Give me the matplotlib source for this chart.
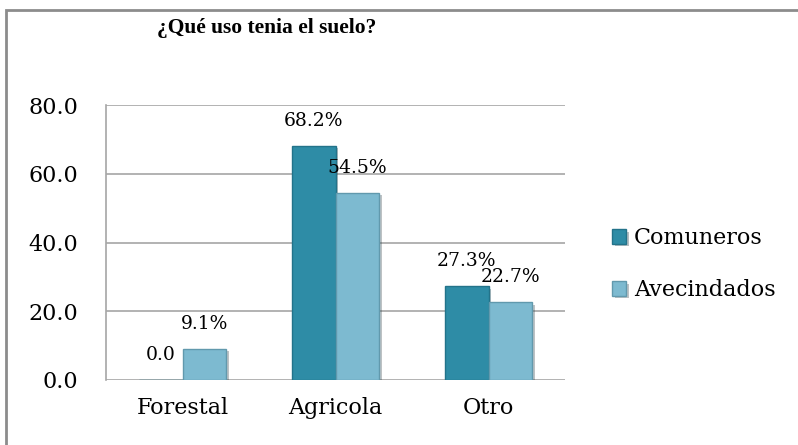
import matplotlib.pyplot as plt
import matplotlib.patheffects as pe
from matplotlib.patches import Rectangle
import numpy as np

# data
categories = ["Forestal", "Agricola", "Otro"]
comuneros = [0.0, 68.2, 27.3]
avecindados = [9.1, 54.5, 22.7]
comuneros_labels = ["0.0", "68.2%", "27.3%"]
avecindados_labels = ["9.1%", "54.5%", "22.7%"]
yticks = [0, 20, 40, 60, 80]

plt.rcParams['font.family'] = ['DejaVu Serif']

fig = plt.figure(figsize=(7.98, 4.45), dpi=100)
ax = fig.add_axes([106 / 798, 1 - 380 / 445, (565 - 106) / 798, (380 - 105) / 445])

x = np.arange(len(categories))
w = 0.287
shadow = [pe.SimplePatchShadow(offset=(2, -2), alpha=0.3), pe.Normal()]

b1 = ax.bar(x - w / 2, comuneros, w, color="#2E8CA6", edgecolor="#23738A",
            linewidth=1, label="Comuneros", path_effects=shadow, zorder=3)
b2 = ax.bar(x + w / 2, avecindados, w, color="#7DBAD0", edgecolor="#6199AD",
            linewidth=1, label="Avecindados", path_effects=shadow, zorder=3)

# value labels above each bar
for bars, labels in [(b1, comuneros_labels), (b2, avecindados_labels)]:
    for bar, lab in zip(bars, labels):
        ax.annotate(lab, (bar.get_x() + bar.get_width() / 2, bar.get_height()),
                    xytext=(0, 18), textcoords="offset points",
                    ha="center", va="center", fontsize=13.5, zorder=5)

ax.set_xlim(-0.5, len(categories) - 0.5)
ax.set_ylim(0, 80)
ax.set_yticks(yticks)
ax.set_yticklabels([f"{v:.1f}" for v in yticks])
ax.set_xticks(x)
ax.set_xticklabels(categories)
ax.tick_params(axis="y", length=0, pad=20, labelsize=16)
ax.tick_params(axis="x", length=0, pad=12, labelsize=16)
ax.grid(axis="y", color="#A6A6A6", linewidth=1.2, zorder=0)
ax.set_axisbelow(True)
for s in ["top", "right", "bottom"]:
    ax.spines[s].set_visible(False)
ax.spines["left"].set_color("#A6A6A6")
ax.spines["left"].set_linewidth(1.2)

fig.text(267 / 798, 1 - 28 / 445, "¿Qué uso tenia el suelo?", ha="center", va="center",
         fontsize=15.5, fontweight="bold", family="Liberation Serif")

fig.legend(handles=[b1, b2], loc="center left", bbox_to_anchor=(592 / 798, 1 - 264 / 445),
           frameon=False, fontsize=16, handlelength=0.65, handleheight=0.65,
           handletextpad=0.35, labelspacing=1.35)

# outer chart border (only top/left visible in the crop)
fig.patches.append(Rectangle((6 / 798, -0.1), 2, 1.1 - 10 / 445, transform=fig.transFigure,
                             fill=False, edgecolor="#8C8C8C", linewidth=2))

fig.savefig("out.png", dpi=100)
